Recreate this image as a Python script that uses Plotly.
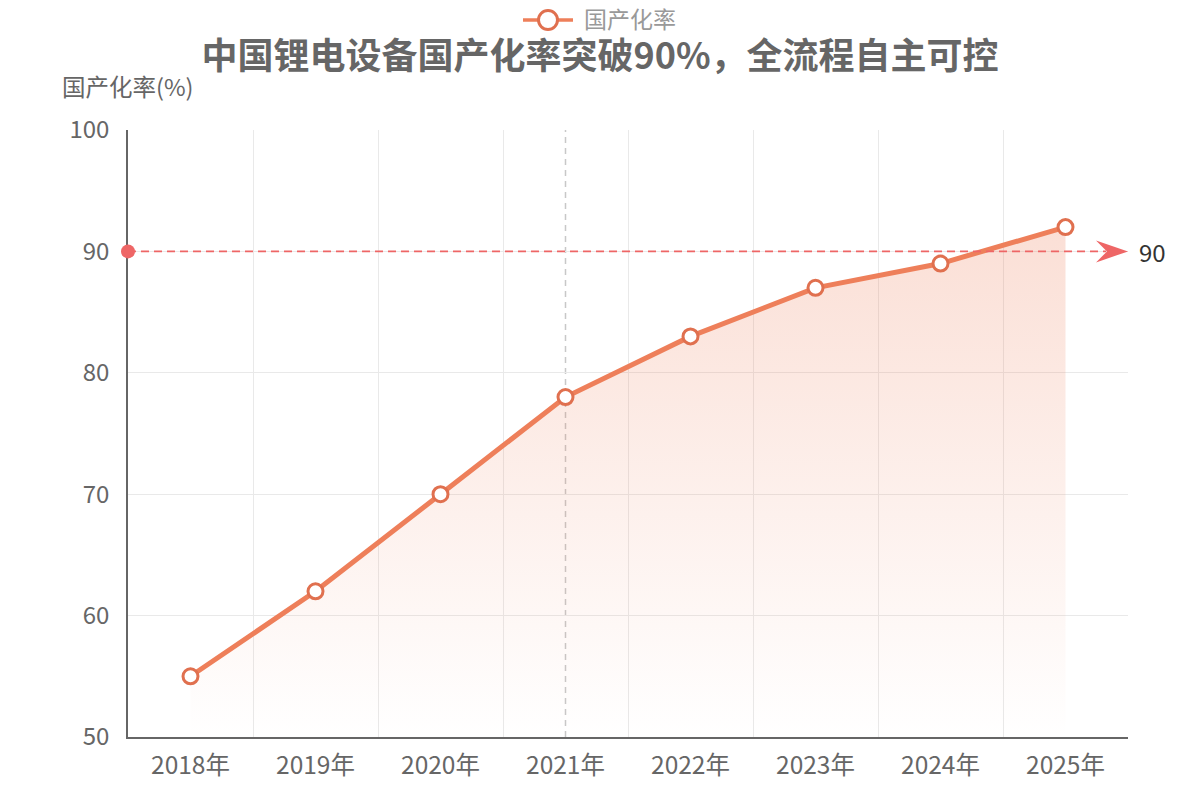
import plotly.graph_objects as go

years = ["2018年", "2019年", "2020年", "2021年", "2022年", "2023年", "2024年", "2025年"]
rates = [55, 62, 70, 78, 83, 87, 89, 92]
target = 90
highlight_index = 3
series_name = "国产化率"
title_text = "中国锂电设备国产化率突破90%，全流程自主可控"
y_name = "国产化率(%)"

FONT = "Noto Sans CJK SC, Noto Sans, sans-serif"
LINE_COLOR = "#ee7f5a"
MARKER_EDGE = "#e0704f"
MARK_RED = "#ee6666"

# plot area geometry (pixels)
L, R, T, B = 128, 72, 130, 63
PW, PH = 1200 - L - R, 800 - T - B
YMIN, YMAX = 50, 100


def px_x(px):
    return (px - L) / PW


def px_y(py):
    return (800 - B - py) / PH


def data_per_px():
    return (YMAX - YMIN) / PH


fig = go.Figure()
fig.add_trace(go.Scatter(
    x=years, y=rates, name=series_name, mode="lines+markers",
    line=dict(color=LINE_COLOR, width=5),
    marker=dict(size=15, color="white", line=dict(color=MARKER_EDGE, width=3)),
    fill="tozeroy",
    fillgradient=dict(type="vertical", start=YMIN, stop=max(rates),
                      colorscale=[[0, "rgba(238,127,90,0.0)"], [1, "rgba(238,127,90,0.25)"]]),
    cliponaxis=False, showlegend=False,
))

ah = 11 * data_per_px()
shapes = [
    dict(type="line", xref="x", yref="paper", x0=highlight_index, x1=highlight_index, y0=0, y1=1,
         line=dict(color="#c8c8c8", width=1.5, dash="6px,5px"), layer="below"),
    dict(type="line", xref="paper", yref="y", x0=0, x1=px_x(1106), y0=target, y1=target,
         line=dict(color=MARK_RED, width=1.8, dash="8px,5px")),
    dict(type="circle", xref="paper", yref="y", xsizemode="pixel", ysizemode="pixel",
         xanchor=0, yanchor=target, x0=-7, x1=7, y0=-7, y1=7,
         fillcolor=MARK_RED, line=dict(width=0)),
    dict(type="path", xref="paper", yref="y",
         path=(f"M 1.0 {target} L {px_x(1096)} {target + ah} L {px_x(1107)} {target} "
               f"L {px_x(1096)} {target - ah} Z"),
         fillcolor=MARK_RED, line=dict(width=0)),
    # manual legend symbol
    dict(type="line", xref="paper", yref="paper", x0=px_x(523), x1=px_x(573), y0=px_y(20), y1=px_y(20),
         line=dict(color=LINE_COLOR, width=3.5)),
    dict(type="circle", xref="paper", yref="paper", xsizemode="pixel", ysizemode="pixel",
         xanchor=px_x(548), yanchor=px_y(20), x0=-9.5, x1=9.5, y0=-9.5, y1=9.5,
         fillcolor="white", line=dict(color=MARKER_EDGE, width=3)),
]

annotations = [
    dict(text=str(target), xref="paper", yref="y", x=1, y=target, xanchor="left", yanchor="middle",
         xshift=9, showarrow=False, font=dict(family=FONT, size=24, color="#333333")),
    dict(text=y_name, xref="paper", yref="paper", x=0, y=1, xanchor="center", yanchor="middle",
         yshift=44, showarrow=False, font=dict(family=FONT, size=23.5, color="#666666")),
    dict(text=series_name, xref="paper", yref="paper", x=px_x(583), y=px_y(18), xanchor="left",
         yanchor="middle", showarrow=False, borderpad=0,
         font=dict(family=FONT, size=23, color="#999999")),
]

fig.update_layout(
    width=1200, height=800,
    margin=dict(l=L, r=R, t=T, b=B),
    paper_bgcolor="white", plot_bgcolor="white",
    font=dict(family=FONT, color="#666666"),
    title=dict(text=f"<b>{title_text}</b>", x=0.5, xanchor="center", xref="container",
               y=1 - 56 / 800, yref="container", yanchor="middle",
               font=dict(family=FONT, size=36, color="#666666")),
    showlegend=False,
    xaxis=dict(type="category", tickson="boundaries", range=[-0.5, len(years) - 0.5],
               showgrid=True, gridcolor="#e9e9e9", gridwidth=1,
               showline=True, linecolor="#666666", linewidth=2, ticks="",
               tickfont=dict(family=FONT, size=24.5, color="#666666"), ticklabelstandoff=6,
               zeroline=False, fixedrange=True),
    yaxis=dict(range=[YMIN, YMAX], dtick=10, tick0=50, showgrid=True, gridcolor="#e9e9e9", gridwidth=1,
               showline=True, linecolor="#666666", linewidth=1.5, ticks="",
               tickfont=dict(family=FONT, size=24, color="#666666"), ticklabelstandoff=12,
               zeroline=False, fixedrange=True),
    shapes=shapes,
    annotations=annotations,
    hovermode=False,
)

fig.write_html("out.html")
